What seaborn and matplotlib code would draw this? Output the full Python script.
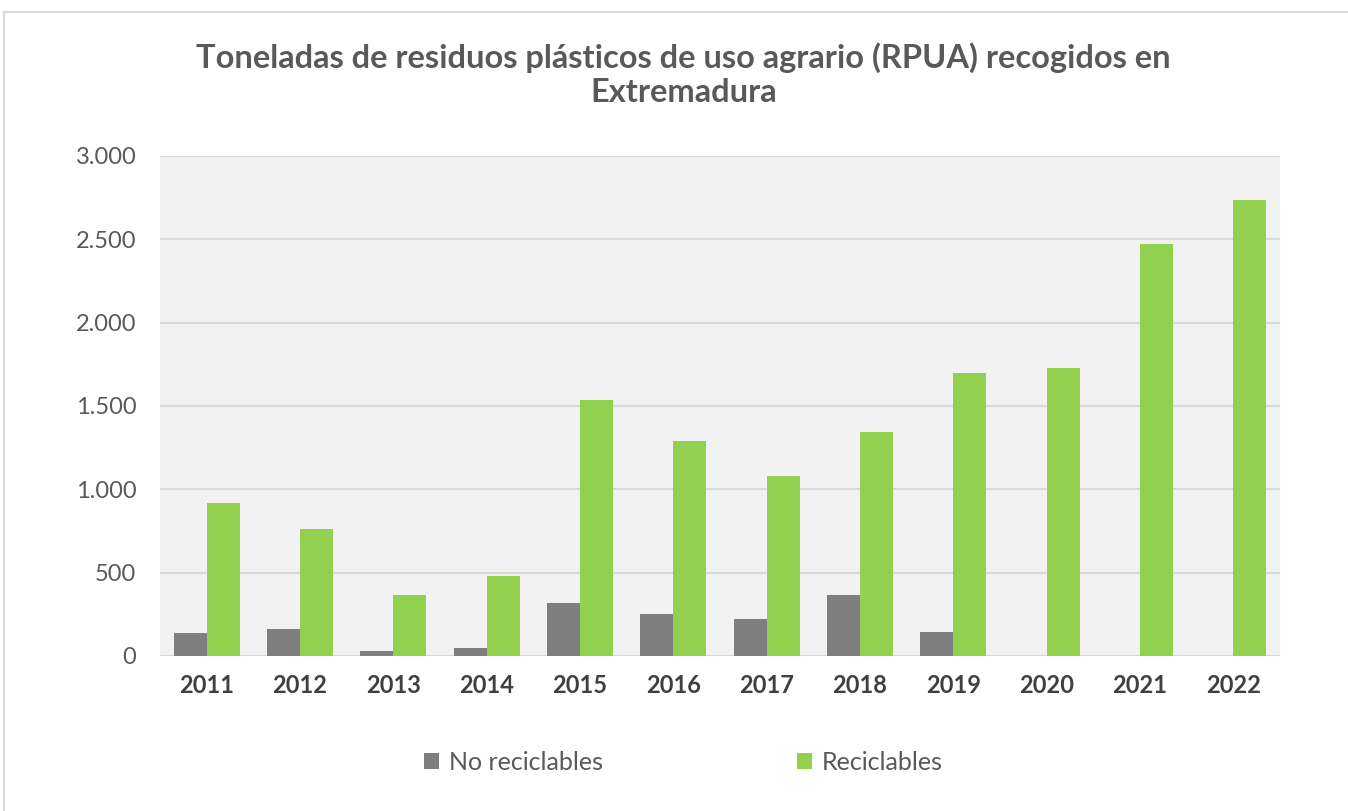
import matplotlib
matplotlib.use("Agg")
import matplotlib.pyplot as plt
import matplotlib.ticker as mticker
from matplotlib.patches import Rectangle, Patch
import seaborn as sns
import pandas as pd
import numpy as np

years = ["2011", "2012", "2013", "2014", "2015", "2016",
         "2017", "2018", "2019", "2020", "2021", "2022"]
no_reciclables = [140, 164, 30, 47, 320, 250, 220, 366, 142, np.nan, np.nan, np.nan]
reciclables = [919, 761, 367, 482, 1534, 1290, 1080, 1342, 1698, 1728, 2474, 2736]
series = ["No reciclables", "Reciclables"]
colors = ["#7f7f7f", "#92d050"]

df = pd.DataFrame({
    "Año": years * 2,
    "Serie": [series[0]] * len(years) + [series[1]] * len(years),
    "Toneladas": no_reciclables + reciclables,
})

sns.set_style("white")
plt.rcParams["font.family"] = ["Lato", "DejaVu Sans"]

fig = plt.figure(figsize=(13.48, 8.11), dpi=100)
ax = fig.add_axes([160 / 1348, 1 - 656 / 811, 1120 / 1348, 500 / 811])

sns.barplot(data=df, x="Año", y="Toneladas", hue="Serie", palette=colors,
            saturation=1, width=0.71, ax=ax, legend=False, linewidth=0, zorder=3)

ax.set_facecolor("#f2f2f2")
ax.set_ylim(0, 3000)
ax.set_yticks(np.arange(0, 3001, 500))
ax.yaxis.set_major_formatter(mticker.FuncFormatter(lambda v, p: f"{int(v):,}".replace(",", ".")))
ax.grid(axis="y", color="#d9d9d9", linewidth=1.6, zorder=0)
ax.grid(axis="x", visible=False)
ax.set_axisbelow(True)
for s in ax.spines.values():
    s.set_visible(False)
ax.set_xlabel("")
ax.set_ylabel("")
ax.tick_params(axis="y", length=0, pad=17, labelsize=17, labelcolor="#595959")
ax.tick_params(axis="x", length=0, pad=13, labelsize=17, labelcolor="#404040")
for lbl in ax.get_xticklabels():
    lbl.set_fontweight("bold")

fig.text(0.507, 0.908, "Toneladas de residuos plásticos de uso agrario (RPUA) recogidos en\nExtremadura",
         ha="center", va="center", fontsize=23.5, fontweight="bold", color="#595959",
         linespacing=1.2)

handles = [Patch(facecolor=c, edgecolor="none") for c in colors]
fig.legend(handles, series, loc="center", bbox_to_anchor=(0.507, 0.06), ncol=2,
           frameon=False, fontsize=18, labelcolor="#595959", handlelength=0.6,
           handleheight=0.6, handletextpad=0.4, columnspacing=7.75)

fig.patches.append(Rectangle((4 / 1348, -0.1), 1.2, 1.1 - 12 / 811,
                             transform=fig.transFigure, fill=False,
                             edgecolor="#d9d9d9", linewidth=1.5))

fig.savefig("out.png", dpi=100, facecolor="white")
